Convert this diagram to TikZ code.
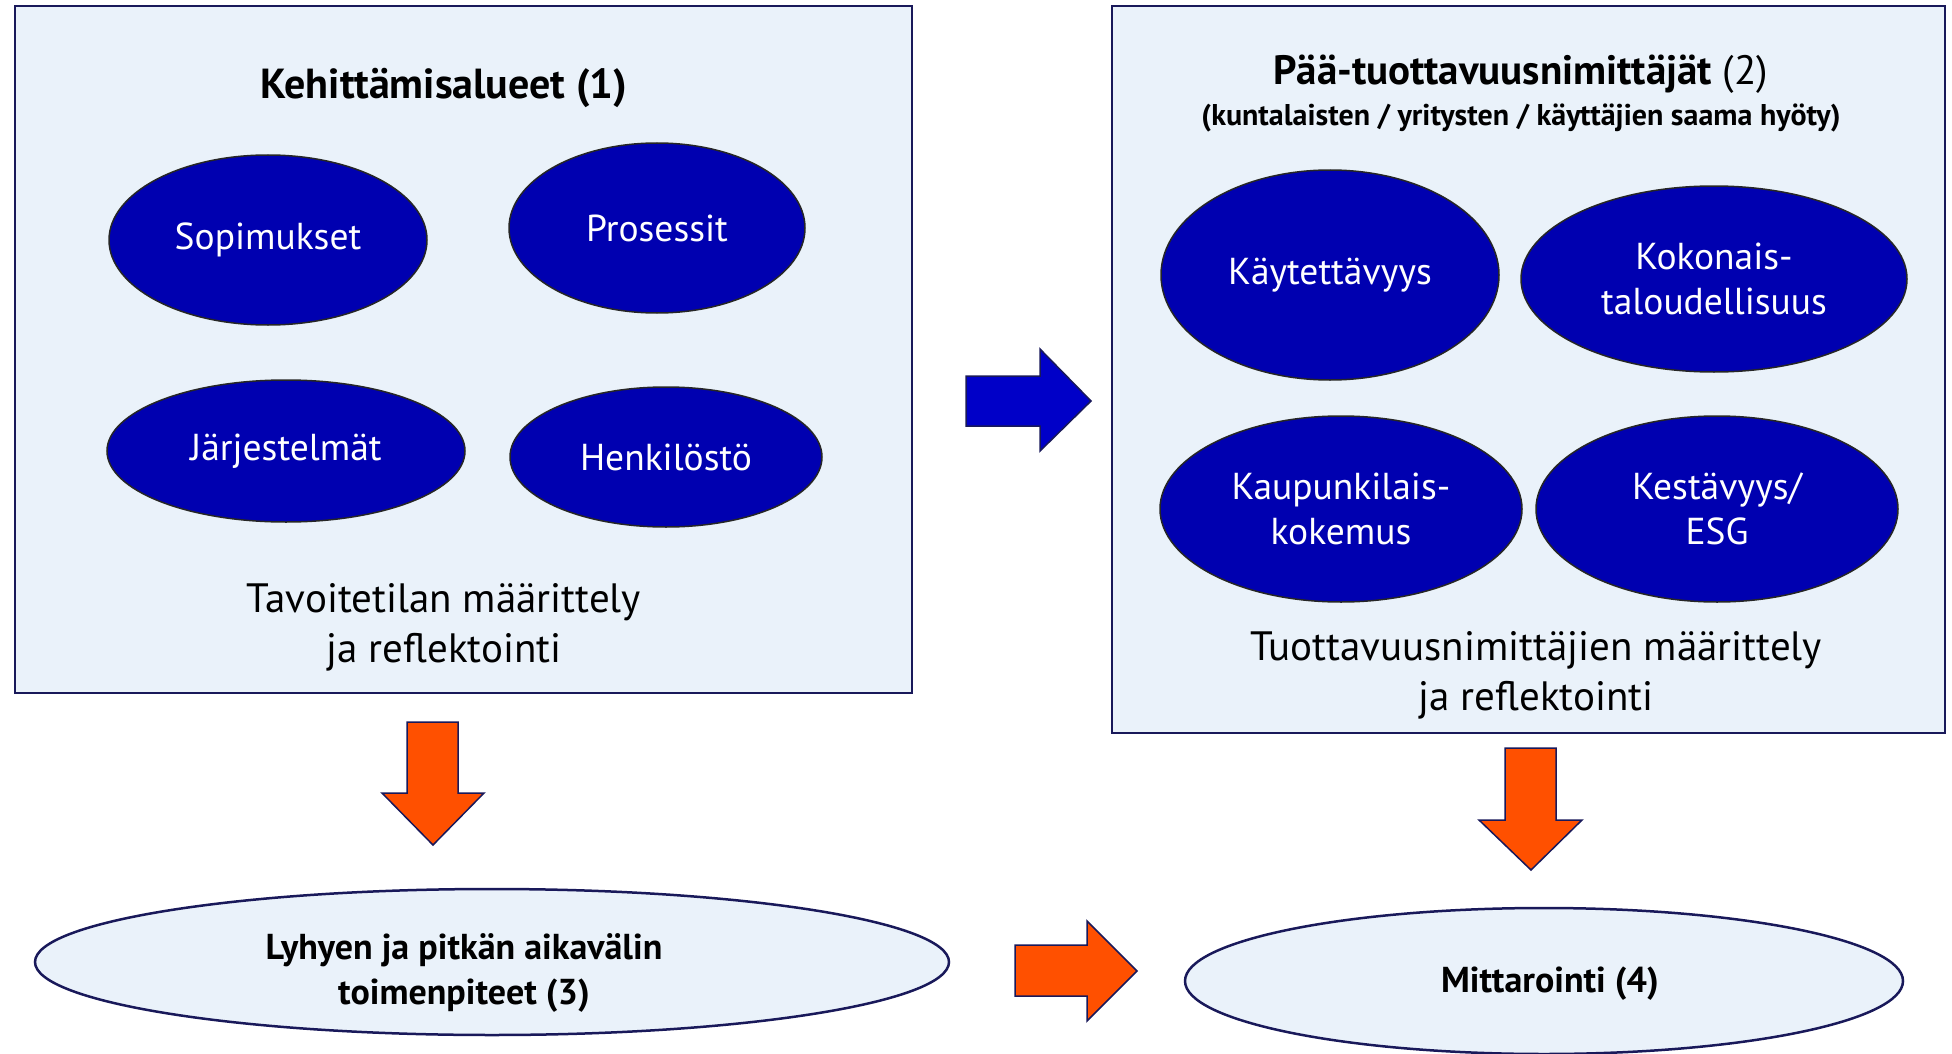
\documentclass[tikz,border=0pt]{standalone}
\usepackage{fontspec}
\setmainfont{PT Sans}
\usetikzlibrary{shapes.geometric}
\definecolor{navy}{RGB}{25,25,90}
\definecolor{panelbg}{RGB}{234,242,250}
\definecolor{blobblue}{RGB}{0,0,176}
\definecolor{arrowblue}{RGB}{0,0,200}
\definecolor{orng}{RGB}{255,80,0}
\tikzset{
  panel/.style={draw=navy, line width=2.5pt, fill=panelbg},
  blob/.style={ellipse, fill=blobblue, draw=black!85, line width=1.5pt, text=white, inner sep=0pt, align=center, font=\fontsize{37.5}{45}\selectfont},
  outcome/.style={ellipse, fill=panelbg, draw=navy, line width=2.5pt, inner sep=0pt},
  outtxt/.style={align=center, inner sep=0pt, font=\bfseries\fontsize{36}{45}\selectfont},
  txt/.style={align=center, inner sep=0pt},
  orangearrow/.style={fill=orng, draw=navy, line width=1.5pt, line join=miter},
  bluearrow/.style={fill=arrowblue, draw=navy, line width=1.5pt, line join=miter}
}
\begin{document}
\begin{tikzpicture}[x=1pt,y=-1pt]
\useasboundingbox (0,0) rectangle (1952,1054);
% panels
\draw[panel] (15,6) rectangle (912,693);
\draw[panel] (1112,6) rectangle (1945,733);
% left panel
\node[txt, font=\bfseries\fontsize{42}{48}\selectfont] (t1) at (444,88) {Kehittämisalueet (1)};
\node[blob, minimum width=318, minimum height=170] (sop) at (268,240) {Sopimukset};
\node[blob, minimum width=296, minimum height=170] (pro) at (657,228) {Prosessit};
\node[blob, minimum width=358, minimum height=142] (jar) at (286,451) {Järjestelmät};
\node[blob, minimum width=312, minimum height=140] (hen) at (666,457) {Henkilöstö};
\node[txt, font=\fontsize{41}{50}\selectfont] (d1) at (444,627) {Tavoitetilan määrittely\\ja reflektointi};
% right panel
\node[txt, font=\fontsize{41}{48}\selectfont] (t2) at (1521,74) {\textbf{Pää-tuottavuusnimittäjät} (2)};
\node[txt, font=\bfseries\fontsize{30}{34}\selectfont] (t2s) at (1521,118) {(kuntalaisten / yritysten / käyttäjien saama hyöty)};
\node[blob, minimum width=338, minimum height=210] (kay) at (1330,275) {Käytettävyys};
\node[blob, minimum width=386, minimum height=186] (kok) at (1714,279) {Kokonais-\\taloudellisuus};
\node[blob, minimum width=362, minimum height=186] (kau) at (1341,509) {Kaupunkilais-\\kokemus};
\node[blob, minimum width=362, minimum height=186] (kes) at (1717,509) {Kestävyys/\\ESG};
\node[txt, font=\fontsize{41}{50}\selectfont] (d2) at (1536,675) {Tuottavuusnimittäjien määrittely\\ja reflektointi};
% bottom outcomes
\node[outcome, minimum width=914, minimum height=146] (toi) at (492,962) {};
\node[outtxt] (toit) at (464,973) {Lyhyen ja pitkän aikavälin\\toimenpiteet (3)};
\node[outcome, minimum width=718, minimum height=146] (mit) at (1544,981) {};
\node[outtxt] (mitt) at (1550,984) {Mittarointi (4)};
% block arrows
\draw[bluearrow] (966,376) -- (1040,376) -- (1040,349) -- (1091,401) -- (1040,451) -- (1040,426) -- (966,426) -- cycle;
\draw[orangearrow] (407,722) -- (458,722) -- (458,793) -- (484,793) -- (433,845) -- (382,793) -- (407,793) -- cycle;
\draw[orangearrow] (1505,748) -- (1556,748) -- (1556,820) -- (1582,820) -- (1531,870) -- (1479,820) -- (1505,820) -- cycle;
\draw[orangearrow] (1015,945) -- (1087,945) -- (1087,921) -- (1137,971) -- (1087,1021) -- (1087,996) -- (1015,996) -- cycle;
\end{tikzpicture}
\end{document}
